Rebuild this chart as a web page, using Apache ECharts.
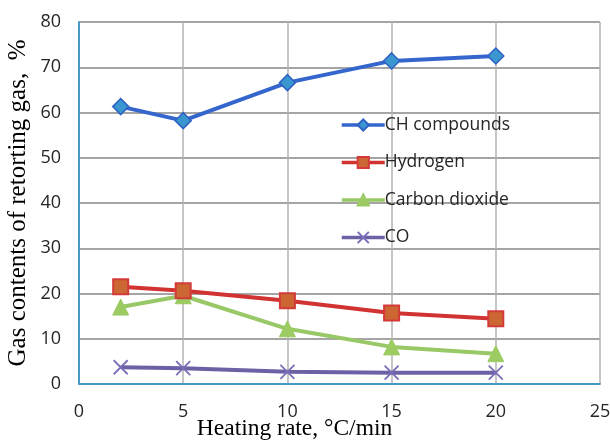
<!DOCTYPE html>
<html><head><meta charset="utf-8">
<script src="https://cdn.jsdelivr.net/npm/echarts@6/dist/echarts.min.js"></script>
<style>html,body{margin:0;padding:0;background:#fff}#c{width:610px;height:441px}</style>
</head><body><div id="c"></div>
<script>
const heatingRates = [2, 5, 10, 15, 20];
const chCompounds = [61.3, 58.2, 66.6, 71.4, 72.5];
const hydrogen = [21.5, 20.6, 18.4, 15.7, 14.4];
const carbonDioxide = [17.0, 19.5, 12.2, 8.2, 6.7];
const carbonMonoxide = [3.7, 3.5, 2.7, 2.5, 2.5];
const seriesNames = ['CH compounds', 'Hydrogen', 'Carbon dioxide', 'CO'];
const xTicks = [0, 5, 10, 15, 20, 25];
const yTicks = [0, 10, 20, 30, 40, 50, 60, 70, 80];

const pair = (vals) => heatingRates.map((x, i) => [x, vals[i]]);
const sans = '"Open Sans", "Noto Sans", sans-serif';
const serif = '"Liberation Serif", "DejaVu Serif", serif';

const chart = echarts.init(document.getElementById('c'), null, {renderer: 'canvas'});
chart.setOption({
  animation: false,
  grid: {left: 79, right: 10, top: 22, bottom: 57, outerBoundsMode: 'none', containLabel: false},
  legend: {
    orient: 'vertical', left: 335, top: 111,
    itemWidth: 43, itemHeight: 14, itemGap: 19.5,
    data: seriesNames,
    lineStyle: {width: 3.5},
    textStyle: {fontFamily: sans, fontSize: 17.5, color: '#262626', padding: [0, 0, 0, -5]}
  },
  xAxis: [{
    type: 'value', min: xTicks[0], max: xTicks[xTicks.length - 1], interval: 5,
    name: 'Heating rate, \u00b0C/min', nameLocation: 'middle', nameGap: 33,
    nameMoveOverlap: false,
    nameTextStyle: {fontFamily: serif, fontSize: 23.5, color: '#000', padding: [0, 90, 0, 0]},
    axisLine: {show: true, lineStyle: {color: '#878787', width: 1.5}},
    axisTick: {show: false},
    axisLabel: {fontFamily: sans, fontSize: 18, color: '#262626', margin: 19},
    splitLine: {show: true, lineStyle: {color: '#b3b3b3', width: 1.5}}
  }, {
    type: 'value', position: 'top', min: 0, max: 25, z: 5,
    axisLine: {show: true, lineStyle: {color: '#2E9BDB', width: 1.5}},
    axisTick: {show: false}, axisLabel: {show: false}, splitLine: {show: false}
  }],
  yAxis: [{
    type: 'value', min: yTicks[0], max: yTicks[yTicks.length - 1], interval: 10,
    name: 'Gas contents of retorting gas,  %', nameLocation: 'middle', nameGap: 48,
    nameMoveOverlap: false,
    nameTextStyle: {fontFamily: serif, fontSize: 25, color: '#000'},
    axisLine: {show: true, lineStyle: {color: '#878787', width: 1.5}},
    axisTick: {show: false},
    axisLabel: {fontFamily: sans, fontSize: 18, color: '#262626', margin: 18},
    splitLine: {show: true, lineStyle: {color: '#878787', width: 1.5}}
  }, {
    type: 'value', position: 'right', min: 0, max: 80, z: 5,
    axisLine: {show: true, lineStyle: {color: '#2E9BDB', width: 1.5}},
    axisTick: {show: false}, axisLabel: {show: false}, splitLine: {show: false}
  }],
  series: [{
    name: seriesNames[0], type: 'line', data: pair(chCompounds), z: 5,
    symbol: 'diamond', symbolSize: 16,
    lineStyle: {color: '#3566CD', width: 4},
    itemStyle: {color: '#3A96CF', borderColor: '#2F62C4', borderWidth: 1.5}
  }, {
    name: seriesNames[1], type: 'line', data: pair(hydrogen), z: 4,
    symbol: 'rect', symbolSize: 15,
    lineStyle: {color: '#D13232', width: 4},
    itemStyle: {color: '#CC6633', borderColor: '#D43A3A', borderWidth: 2}
  }, {
    name: seriesNames[2], type: 'line', data: pair(carbonDioxide), z: 3,
    symbol: 'triangle', symbolSize: 16,
    lineStyle: {color: '#99C866', width: 4},
    itemStyle: {color: '#9BCB62', borderColor: '#9BCB62', borderWidth: 1}
  }, {
    name: seriesNames[3], type: 'line', data: pair(carbonMonoxide), z: 2,
    symbol: 'path://M0,0L10,10M10,0L0,10', symbolSize: 14,
    lineStyle: {color: '#6B62A5', width: 4},
    itemStyle: {color: 'rgba(0,0,0,0)', borderColor: '#7C6DB8', borderWidth: 1.8}
  }]
});
</script></body></html>
